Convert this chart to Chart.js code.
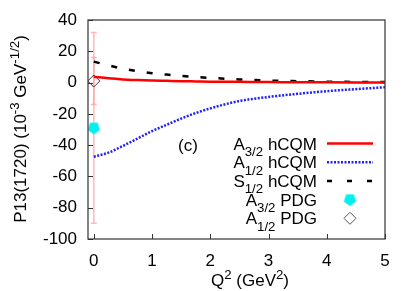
<!DOCTYPE html>
<html><head><meta charset="utf-8">
<script src="https://cdn.jsdelivr.net/npm/chart.js@4.4.1/dist/chart.umd.min.js"></script>
<style>html,body{margin:0;padding:0;background:#fff}#wrap{width:415px;height:291px}</style>
</head><body><div id="wrap"><canvas id="c"></canvas></div>
<script>
// model curves
const q2 = [0, 0.25, 0.5, 0.75, 1, 1.25, 1.5, 1.75, 2, 2.5, 3, 3.5, 4, 4.5, 5];
const a32Model = [3.7, 2.7, 2.0, 1.6, 1.3, 1.1, 0.9, 0.75, 0.6, 0.45, 0.3, 0.25, 0.15, 0.12, 0.1];
const a12Model = [-47.4, -44.8, -40.5, -35.8, -31, -27, -23, -19.5, -16.5, -11.8, -9.2, -7.2, -5.5, -4.2, -3.0];
const s12Model = [13.4, 11.0, 8.9, 7.3, 6.0, 5.1, 4.3, 3.6, 3.0, 2.0, 1.3, 0.9, 0.6, 0.4, 0.3];
// PDG points with errors
const pdgQ2 = [0];
const a32Pdg = [-29];
const a32PdgErr = [61];
const a12Pdg = [1];
const a12PdgErr = [15];

const xTicks = [0, 1, 2, 3, 4, 5];
const yTicks = [-100, -80, -60, -40, -20, 0, 20, 40];
const seriesNames = ["A_{3/2} hCQM", "A_{1/2} hCQM", "S_{1/2} hCQM", "A_{3/2} PDG", "A_{1/2} PDG"];
const xTitle = "Q^{2} (GeV^{2})";
const yTitle = "P13(1720) (10^{-3} GeV^{-1/2})";
const panelTag = "(c)";

const FONT = "'Liberation Sans', Arial, sans-serif";

function pentagon(r, fill) {
  const s = 2 * r + 2;
  const c = document.createElement('canvas');
  c.width = s; c.height = s;
  const g = c.getContext('2d');
  g.beginPath();
  for (let i = 0; i < 5; i++) {
    const a = Math.PI / 2 + i * 2 * Math.PI / 5;
    g.lineTo(s / 2 + r * Math.cos(a), s / 2 + r * Math.sin(a));
  }
  g.closePath();
  g.fillStyle = fill;
  g.fill();
  return c;
}
const cyanPent = pentagon(6.5, '#00f0f0');

function pts(xs, ys) { return xs.map((x, i) => ({x: x, y: ys[i]})); }

// text with _{} and ^{}
function rich(ctx, str, x, y, size, align) {
  const parts = [];
  str.replace(/([_^])\{([^}]*)\}|([^_^]+)/g, (m, k, inner, plain) => {
    if (k) parts.push({t: inner, s: size * 0.78, dy: k === '_' ? size * 0.38 : -size * 0.42});
    else parts.push({t: plain, s: size, dy: 0});
  });
  let w = 0;
  parts.forEach(p => { ctx.font = p.s + 'px ' + FONT; p.w = ctx.measureText(p.t).width; w += p.w; });
  let cx = align === 'right' ? x - w : align === 'center' ? x - w / 2 : x;
  ctx.textAlign = 'left';
  ctx.textBaseline = 'alphabetic';
  parts.forEach(p => { ctx.font = p.s + 'px ' + FONT; ctx.fillText(p.t, cx, y + p.dy); cx += p.w; });
}

const deco = {
  id: 'deco',
  beforeDatasetsDraw(chart) {
    const ctx = chart.ctx, xs = chart.scales.x, ys = chart.scales.y;
    ctx.save();
    ctx.strokeStyle = 'rgba(255,160,160,0.75)';
    ctx.lineWidth = 1.5;
    const bars = [[a32Pdg, a32PdgErr], [a12Pdg, a12PdgErr]];
    bars.forEach(([v, e]) => {
      pdgQ2.forEach((q, i) => {
        const px = xs.getPixelForValue(q);
        const y1 = ys.getPixelForValue(v[i] + e[i]);
        const y2 = ys.getPixelForValue(v[i] - e[i]);
        ctx.beginPath();
        ctx.moveTo(px, y1); ctx.lineTo(px, y2);
        ctx.moveTo(px - 3, y1); ctx.lineTo(px + 3, y1);
        ctx.moveTo(px - 3, y2); ctx.lineTo(px + 3, y2);
        ctx.stroke();
      });
    });
    ctx.restore();
  },
  afterDraw(chart) {
    const ctx = chart.ctx, a = chart.chartArea, xs = chart.scales.x, ys = chart.scales.y;
    ctx.save();
    ctx.strokeStyle = '#333';
    ctx.lineWidth = 1.2;
    ctx.strokeRect(a.left, a.top, a.right - a.left, a.bottom - a.top);
    ctx.beginPath();
    xs.ticks.forEach(t => {
      const px = Math.round(xs.getPixelForValue(t.value)) + 0.5;
      ctx.moveTo(px, a.bottom); ctx.lineTo(px, a.bottom - 5);
    });
    ys.ticks.forEach(t => {
      const py = Math.round(ys.getPixelForValue(t.value)) + 0.5;
      ctx.moveTo(a.left, py); ctx.lineTo(a.left + 5, py);
    });
    ctx.lineWidth = 1;
    ctx.stroke();

    ctx.fillStyle = '#000';
    rich(ctx, xTitle, 250, 286, 17, 'center');
    ctx.save();
    ctx.translate(26, 129);
    ctx.rotate(-Math.PI / 2);
    rich(ctx, yTitle, 0, 0, 17, 'center');
    ctx.restore();

    ctx.font = '17px ' + FONT;
    ctx.fillText(panelTag, 178, 151);

    // key
    const ds = chart.data.datasets;
    seriesNames.forEach((name, i) => {
      const ry = 143.5 + i * 18.7;
      ctx.fillStyle = '#000';
      rich(ctx, name, 317, ry + 6, 17, 'right');
      const d = ds[i];
      if (i < 3) {
        ctx.save();
        ctx.strokeStyle = d.borderColor;
        ctx.lineWidth = d.borderWidth;
        ctx.setLineDash(d.legendDash || d.borderDash || []);
        ctx.beginPath();
        ctx.moveTo(327, ry); ctx.lineTo(373, ry);
        ctx.stroke();
        ctx.restore();
      } else if (d.pointStyle === 'rectRot') {
        ctx.fillStyle = '#fff';
        ctx.strokeStyle = '#555';
        ctx.lineWidth = d.borderWidth;
        ctx.beginPath();
        ctx.moveTo(350, ry - 6); ctx.lineTo(356, ry); ctx.lineTo(350, ry + 6); ctx.lineTo(344, ry); ctx.closePath();
        ctx.fill(); ctx.stroke();
      } else {
        Chart.helpers.drawPoint(ctx, {
          pointStyle: d.pointStyle, radius: d.pointRadius, borderWidth: 0, rotation: 0
        }, 350, ry);
      }
    });
    ctx.restore();
  }
};

new Chart(document.getElementById('c'), {
  type: 'scatter',
  data: {
    datasets: [{
      label: seriesNames[0], data: pts(q2, a32Model), showLine: true,
      borderColor: '#ff0000', borderWidth: 2.5, pointRadius: 0, cubicInterpolationMode: 'monotone'
    }, {
      label: seriesNames[1], data: pts(q2, a12Model), showLine: true,
      borderColor: '#2020ff', borderWidth: 2.5, borderDash: [2, 1.5], pointRadius: 0, cubicInterpolationMode: 'monotone'
    }, {
      label: seriesNames[2], data: pts(q2, s12Model), showLine: true,
      borderColor: '#000', borderWidth: 2.5, borderDash: [6, 12], legendDash: [5, 15], pointRadius: 0, cubicInterpolationMode: 'monotone'
    }, {
      label: seriesNames[3], data: pts(pdgQ2, a32Pdg),
      pointStyle: cyanPent, pointRadius: 6.5, backgroundColor: '#00f0f0', borderColor: '#00f0f0', borderWidth: 0
    }, {
      label: seriesNames[4], data: pts(pdgQ2, a12Pdg),
      pointStyle: 'rectRot', pointRadius: 6, backgroundColor: 'rgba(255,255,255,0)', borderColor: '#553333', borderWidth: 1
    }]
  },
  options: {
    responsive: true,
    maintainAspectRatio: false,
    animation: false,
    layout: {padding: {left: 0, top: 20, right: 30, bottom: 0}},
    plugins: {legend: {display: false}, tooltip: {enabled: false}},
    scales: {
      x: {
        type: 'linear', min: -0.1, max: 5,
        afterBuildTicks: s => { s.ticks = xTicks.map(v => ({value: v})); },
        afterFit: s => { s.height = 52; },
        grid: {display: false}, border: {display: false},
        ticks: {color: '#000', padding: 4, font: {family: FONT, size: 17}}
      },
      y: {
        type: 'linear', min: -100, max: 40,
        afterBuildTicks: s => { s.ticks = yTicks.map(v => ({value: v})); },
        afterFit: s => { s.width = 88; },
        grid: {display: false}, border: {display: false},
        ticks: {color: '#000', padding: 3, font: {family: FONT, size: 17}}
      }
    }
  },
  plugins: [deco]
});
</script>
</body></html>
